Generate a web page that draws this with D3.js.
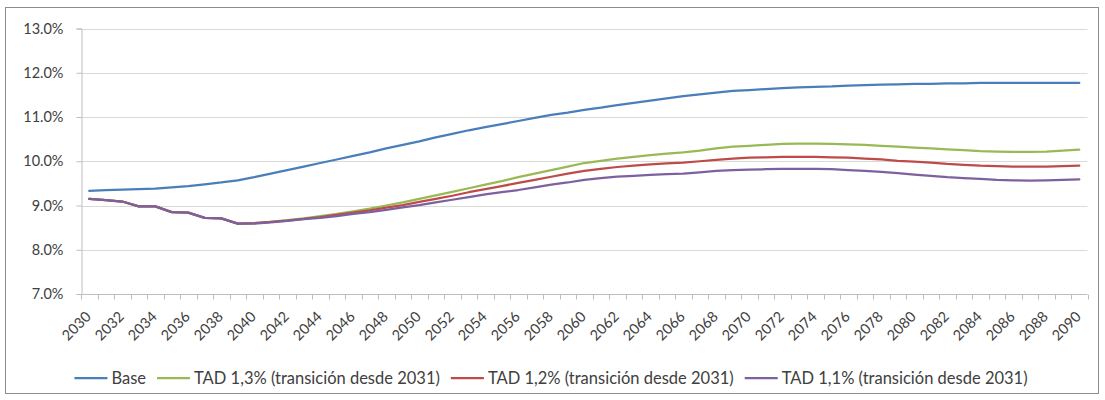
<!DOCTYPE html>
<html><head><meta charset="utf-8">
<script src="https://cdn.jsdelivr.net/npm/d3@7"></script>
<style>
html,body{margin:0;padding:0;background:#fff;}
svg{display:block;font-family:Lato,"Open Sans",sans-serif;}
</style></head>
<body><svg id="c" width="1105" height="400"></svg>
<script>
const years = d3.range(2030, 2091);
const yTicks = [7, 8, 9, 10, 11, 12, 13];
const seriesNames = ["Base", "TAD 1,3% (transición desde 2031)", "TAD 1,2% (transición desde 2031)", "TAD 1,1% (transición desde 2031)"];
const seriesColors = ["#4a7ebb", "#98b954", "#be4b48", "#7d60a0"];

const base = [9.33,9.35,9.36,9.37,9.38,9.41,9.44,9.48,9.52,9.57,9.64,9.72,9.80,9.88,9.96,10.04,10.12,10.20,10.29,10.37,10.45,10.54,10.62,10.70,10.77,10.84,10.91,10.98,11.05,11.10,11.16,11.21,11.27,11.32,11.37,11.42,11.47,11.51,11.55,11.59,11.61,11.63,11.65,11.67,11.68,11.69,11.71,11.72,11.73,11.74,11.75,11.75,11.76,11.76,11.77,11.77,11.77,11.77,11.77,11.77,11.77];
const earlyTAD = [9.15,9.12,9.09,8.98,8.98,8.85,8.84,8.72,8.71,8.59];
const tad13 = earlyTAD.concat([8.60,8.63,8.67,8.71,8.76,8.81,8.87,8.93,9.00,9.07,9.15,9.23,9.31,9.39,9.47,9.55,9.64,9.72,9.80,9.88,9.96,10.01,10.06,10.10,10.14,10.17,10.20,10.24,10.29,10.33,10.35,10.37,10.39,10.40,10.40,10.39,10.38,10.37,10.35,10.33,10.31,10.29,10.27,10.25,10.23,10.22,10.21,10.21,10.22,10.24,10.26]);
const tad12 = earlyTAD.concat([8.60,8.63,8.66,8.70,8.74,8.79,8.84,8.89,8.95,9.01,9.08,9.15,9.22,9.30,9.37,9.44,9.51,9.58,9.65,9.72,9.78,9.83,9.87,9.90,9.93,9.95,9.97,10.00,10.03,10.06,10.08,10.09,10.10,10.10,10.10,10.09,10.08,10.06,10.04,10.01,9.99,9.97,9.94,9.92,9.90,9.89,9.88,9.88,9.88,9.89,9.90]);
const tad11 = earlyTAD.concat([8.59,8.62,8.65,8.69,8.72,8.76,8.81,8.85,8.90,8.96,9.01,9.07,9.13,9.19,9.25,9.30,9.35,9.41,9.47,9.52,9.58,9.62,9.65,9.67,9.69,9.71,9.72,9.75,9.78,9.80,9.81,9.82,9.83,9.83,9.83,9.82,9.80,9.78,9.76,9.73,9.70,9.67,9.64,9.62,9.60,9.58,9.57,9.56,9.57,9.58,9.59]);
const allSeries = [base, tad13, tad12, tad11];

const svg = d3.select("#c");
const textColor = "#404040";

svg.append("rect").attr("x", 5.5).attr("y", 7.5).attr("width", 1093).attr("height", 386)
  .attr("fill", "#fff").attr("stroke", "#8c8c8c").attr("stroke-width", 1);

const x = d3.scaleBand().domain(years).range([81, 1087.5]).padding(0);
const y = d3.scaleLinear().domain([7, 13]).range([294, 28.5]);
const cx = d => x(d) + x.bandwidth() / 2;

svg.append("g").selectAll("line").data(yTicks.slice(1)).join("line")
  .attr("x1", 81).attr("x2", 1087.5)
  .attr("y1", d => Math.round(y(d)) + 0.5).attr("y2", d => Math.round(y(d)) + 0.5)
  .attr("stroke", "#d9d9d9").attr("stroke-width", 1);

const yAxis = d3.axisLeft(y).tickValues(yTicks).tickFormat(d => d.toFixed(1) + "%").tickSize(5).tickPadding(13);
const gy = svg.append("g").attr("transform", "translate(81.5,0)").call(yAxis);
gy.select(".domain").attr("stroke", "#bfbfbf");
gy.selectAll(".tick line").attr("stroke", "#bfbfbf");
gy.selectAll(".tick text").attr("fill", textColor).attr("font-size", 14.5).attr("font-family", "Lato");

svg.append("line").attr("x1", 81).attr("x2", 1087.5).attr("y1", 294.5).attr("y2", 294.5).attr("stroke", "#bfbfbf");
const boundaries = years.map(d => x(d)).concat([x(years[years.length - 1]) + x.bandwidth()]);
svg.append("g").selectAll("line").data(boundaries).join("line")
  .attr("x1", d => Math.round(d) + 0.5).attr("x2", d => Math.round(d) + 0.5)
  .attr("y1", 294.5).attr("y2", 299.5).attr("stroke", "#bfbfbf");

svg.append("g").selectAll("text").data(years.filter(d => d % 2 === 0)).join("text")
  .attr("transform", d => `translate(${cx(d) - 1},${314}) rotate(-45)`)
  .attr("text-anchor", "end").attr("dy", "0.35em")
  .attr("fill", textColor).attr("font-size", 14.5).attr("font-family", "Lato")
  .text(d => d);

const line = d3.line().x((d, i) => cx(years[i])).y(d => y(d));
svg.append("g").selectAll("path").data(allSeries).join("path")
  .attr("d", d => line(d)).attr("fill", "none")
  .attr("stroke", (d, i) => seriesColors[i]).attr("stroke-width", 2.25)
  .attr("stroke-linejoin", "round").attr("stroke-linecap", "round");

const lg = svg.append("g");
const sampleW = 33, gap1 = 4, gap2 = 11, legendY = 378;
const items = seriesNames.map((n, i) => {
  const g = lg.append("g");
  g.append("line").attr("x1", 0).attr("x2", sampleW).attr("y1", 0).attr("y2", 0)
    .attr("stroke", seriesColors[i]).attr("stroke-width", 2.25);
  const t = g.append("text").attr("x", sampleW + gap1).attr("dy", "0.35em")
    .attr("fill", textColor).attr("font-size", 16.5).attr("font-family", "Lato").text(n);
  return {g, w: sampleW + gap1 + t.node().getComputedTextLength()};
});
const total = d3.sum(items, d => d.w) + gap2 * (items.length - 1);
let lx = 551 - total / 2;
items.forEach(it => { it.g.attr("transform", `translate(${lx},${legendY})`); lx += it.w + gap2; });
</script></body></html>
